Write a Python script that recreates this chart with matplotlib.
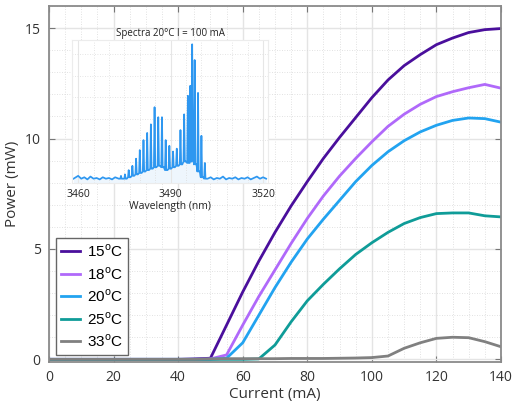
import matplotlib
matplotlib.use("Agg")
import matplotlib.pyplot as plt
from matplotlib.ticker import MultipleLocator

# ---------------- data ----------------
current = [0, 5, 10, 15, 20, 25, 30, 35, 40, 45, 50, 55, 60, 65, 70, 75, 80, 85, 90,
           95, 100, 105, 110, 115, 120, 125, 130, 135, 140]
p15 = [0.0, 0.0, 0.0, 0.0, 0.0, 0.0, 0.0, 0.0, 0.0, 0.02, 0.05, 1.55, 3.05, 4.45, 5.75, 6.95,
       8.05, 9.1, 10.05, 10.95, 11.85, 12.65, 13.3, 13.8, 14.25, 14.55, 14.8, 14.93, 14.98]
p18 = [0.0, 0.0, 0.0, 0.0, 0.0, 0.0, 0.0, 0.0, 0.0, 0.0, 0.02, 0.2, 1.55, 2.85, 4.05, 5.25,
       6.38, 7.4, 8.3, 9.1, 9.85, 10.55, 11.1, 11.55, 11.9, 12.12, 12.3, 12.45, 12.28]
p20 = [0.0, 0.0, 0.0, 0.0, 0.0, 0.0, 0.0, 0.0, 0.0, 0.0, 0.0, 0.05, 0.75, 2.0, 3.25, 4.4,
       5.45, 6.35, 7.2, 8.05, 8.78, 9.4, 9.9, 10.3, 10.6, 10.82, 10.93, 10.9, 10.74]
p25 = [0.0, 0.0, 0.0, 0.0, 0.0, 0.0, 0.0, 0.0, 0.0, 0.0, 0.0, 0.0, 0.0, 0.02, 0.65, 1.7,
       2.65, 3.4, 4.1, 4.75, 5.28, 5.75, 6.15, 6.42, 6.6, 6.63, 6.63, 6.5, 6.45]
p33 = [0.0, 0.0, 0.0, 0.0, 0.0, 0.0, 0.0, 0.0, 0.0, 0.0, 0.02, 0.03, 0.03, 0.03, 0.03, 0.04,
       0.04, 0.04, 0.05, 0.06, 0.08, 0.15, 0.5, 0.75, 0.95, 1.0, 0.98, 0.8, 0.57]
labels = ["15$^\\mathrm{o}$C", "18$^\\mathrm{o}$C", "20$^\\mathrm{o}$C",
          "25$^\\mathrm{o}$C", "33$^\\mathrm{o}$C"]
colors = ["#4a0f9c", "#b069fa", "#22a3f0", "#0f9c98", "#808080"]

# inset spectrum: mode wavelengths (nm), peak heights, valley heights after each mode
mode_wl = [3473.9, 3475.2, 3476.4, 3477.6, 3478.8, 3480.0, 3481.2, 3482.4, 3483.6, 3484.8,
           3486.0, 3487.2, 3488.4, 3489.6, 3490.8, 3492.0, 3493.2, 3494.4, 3495.6, 3496.4,
           3497.0, 3497.8, 3498.9, 3500.0, 3501.1]
mode_h = [0.05, 0.06, 0.09, 0.12, 0.17, 0.23, 0.30, 0.35, 0.41, 0.53,
          0.46, 0.46, 0.30, 0.26, 0.22, 0.24, 0.37, 0.48, 0.61, 0.68,
          0.97, 0.86, 0.63, 0.33, 0.14]
valley_h = [0.03, 0.03, 0.04, 0.05, 0.06, 0.07, 0.08, 0.09, 0.10, 0.11,
            0.12, 0.11, 0.09, 0.10, 0.11, 0.12, 0.13, 0.15, 0.14, 0.15,
            0.16, 0.13, 0.08, 0.04, 0.03]
floor_wl = [3458.5, 3460, 3461, 3462, 3463, 3464, 3465, 3466, 3467, 3468, 3469, 3470,
            3471, 3472, 3473.2]
floor_h = [0.03, 0.05, 0.03, 0.04, 0.025, 0.045, 0.03, 0.035, 0.025, 0.04, 0.03, 0.035,
           0.025, 0.04, 0.03]
tail_wl = [3502.0, 3503, 3504, 3505, 3506, 3507, 3508, 3509, 3510, 3511, 3512, 3513,
           3514, 3515, 3516, 3517, 3518, 3519, 3520, 3521]
tail_h = [0.03, 0.04, 0.025, 0.035, 0.03, 0.045, 0.025, 0.035, 0.03, 0.04, 0.025, 0.035,
          0.03, 0.04, 0.025, 0.035, 0.045, 0.03, 0.04, 0.03]

# ---------------- figure ----------------
plt.rcParams["mathtext.fontset"] = "custom"
plt.rcParams["mathtext.rm"] = "Liberation Sans"
fig = plt.figure(figsize=(5.12, 4.07), dpi=100)
ax = fig.add_axes([0.0957, 0.1106, 0.8828, 0.8746])

for p, lab, c in zip([p15, p18, p20, p25, p33], labels, colors):
    ax.plot(current, p, color=c, lw=2.0, label=lab, solid_joinstyle="round")

ax.set_xlim(0, 140)
ax.set_ylim(-0.12, 16)
ax.xaxis.set_major_locator(MultipleLocator(20))
ax.xaxis.set_minor_locator(MultipleLocator(5))
ax.yaxis.set_major_locator(MultipleLocator(5))
ax.yaxis.set_minor_locator(MultipleLocator(1))
ax.grid(which="major", color="#e4e4e4", lw=1.0, ls="-")
ax.grid(which="minor", color="#d8d8d8", lw=0.6, ls=(0, (1, 2)))
ax.set_axisbelow(True)
ax.tick_params(which="major", direction="in", top=True, right=True, length=4,
               color="#777777", labelsize=10, labelcolor="#333333", pad=6)
ax.tick_params(which="minor", length=0)
for s in ax.spines.values():
    s.set_color("#8a8a8a")
    s.set_linewidth(1.3)
for t in ax.get_xticklabels() + ax.get_yticklabels():
    t.set_family("Open Sans")
ax.set_xlabel("Current (mA)", fontsize=11, family="Open Sans", color="#333333", labelpad=1)
ax.set_ylabel("Power (mW)", fontsize=11, family="Open Sans", color="#333333", labelpad=3)

leg = ax.legend(loc="lower left", bbox_to_anchor=(0.0155, 0.0197), borderaxespad=0,
                fancybox=False, framealpha=1, edgecolor="#666666",
                prop={"family": "Liberation Sans", "size": 11},
                handlelength=1.25, handletextpad=0.4, labelspacing=0.38,
                borderpad=0.35)
leg.get_frame().set_linewidth(1.0)

# ---------------- inset ----------------
ins = fig.add_axes([0.1406, 0.5504, 0.3828, 0.3513])
ins.set_facecolor("white")
sx, sy = list(floor_wl), list(floor_h)
for w, h, v in zip(mode_wl, mode_h, valley_h):
    sx += [w - 0.22, w, w + 0.22, w + 0.6]
    sy += [v, h, v, v]
sx += tail_wl
sy += tail_h
ins.fill_between(sx, 0, sy, color="#cfe7fc", alpha=0.35, lw=0)
ins.plot(sx, sy, color="#2e97f0", lw=1.25)
ins.set_xlim(3458, 3521.6)
ins.set_ylim(0, 1.0)
ins.set_xticks([3460, 3490, 3520])
ins.set_yticks([])
ins.xaxis.set_minor_locator(MultipleLocator(5))
ins.set_yticks([0.15, 0.3, 0.45, 0.6, 0.75, 0.9], minor=True)
ins.grid(which="minor", color="#dcdcdc", lw=0.6, ls=(0, (1, 2)))
ins.grid(which="major", axis="x", color="#e6e6e6", lw=0.8)
ins.tick_params(which="both", length=0, labelsize=7.5, labelcolor="#222222", pad=4)
for t in ins.get_xticklabels():
    t.set_family("Open Sans")
for s in ins.spines.values():
    s.set_color("#ececec")
    s.set_linewidth(0.8)
ins.set_xlabel("Wavelength (nm)", fontsize=7.5, family="Open Sans", color="#222222",
               labelpad=1)
ins.set_title("Spectra 20°C I = 100 mA", fontsize=7, family="Open Sans",
              color="#222222", pad=3)

fig.savefig("out.png", dpi=100)
